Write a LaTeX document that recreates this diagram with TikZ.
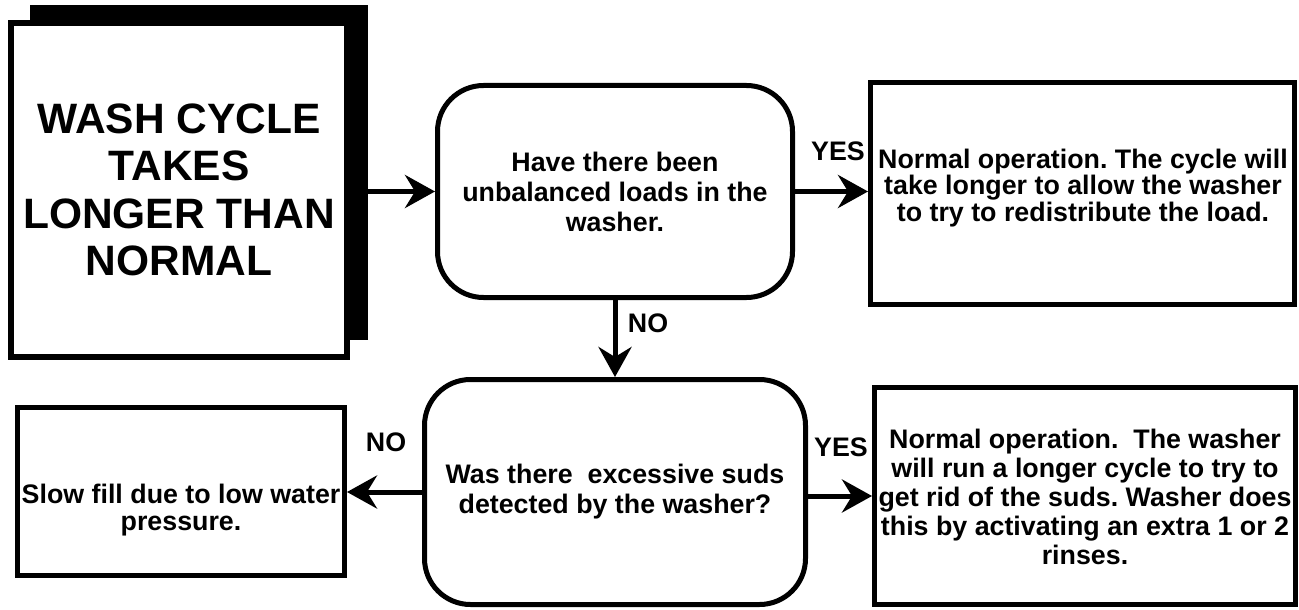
\documentclass[tikz,border=0pt]{standalone}
\usepackage{fontspec}
\setmainfont{Liberation Sans}
\usetikzlibrary{arrows.meta}
\frenchspacing
\begin{document}
\begin{tikzpicture}[x=1pt,y=-1pt,
  box/.style={draw=black,line width=5pt,fill=white,inner sep=0pt},
  dec/.style={box,rounded corners=46pt},
  txt/.style={align=center,font=\fontsize{26.8}{29}\selectfont\bfseries,inner sep=0pt},
  lbl/.style={font=\fontsize{26.8}{28}\selectfont\bfseries,inner sep=0pt},
  arr/.style={line width=5pt,-{Stealth[length=30pt,width=33pt,inset=10pt]}}]
\useasboundingbox (0,0) rectangle (1299,610);
% title box with shadow
\node[fill=black,minimum width=338pt,minimum height=335pt,inner sep=0pt] (shadow) at (199,172.5) {};
\node[box,line width=6pt,minimum width=336pt,minimum height=334pt,align=center,
  font=\fontsize{42.5}{47.5}\selectfont\bfseries] (start) at (179,190)
  {WASH CYCLE\\TAKES\\LONGER THAN\\NORMAL};
% decisions
\node[dec,minimum width=355pt,minimum height=212pt,txt,font=\fontsize{26.8}{30}\selectfont\bfseries] (d1) at (615,191.5)
  {Have there been\\unbalanced loads in the\\washer.};
\node[dec,minimum width=381pt,minimum height=225pt,txt,font=\fontsize{26.8}{30}\selectfont\bfseries] (d2) at (615,492)
  {Was there\ \ excessive suds\\detected by the washer?};
% result boxes
\node[box,minimum width=424pt,minimum height=222pt] (r1) at (1082.5,193.5) {};
\node[txt,font=\fontsize{26.8}{26.5}\selectfont\bfseries] (t1) at (1083,188)
  {Normal operation. The cycle will\\take longer to allow the washer\\to try to redistribute the load.};
\node[box,minimum width=421pt,minimum height=217pt] (r2) at (1085,496) {};
\node[txt] (t2) at (1085,497)
  {Normal operation.\ \ The washer\\will run a longer cycle to try to\\get rid of the suds. Washer does\\this by activating an extra 1 or 2\\rinses.};
\node[box,minimum width=327pt,minimum height=168pt] (l2) at (181,491.5) {};
\node[txt,font=\fontsize{26.8}{27}\selectfont\bfseries] (t3) at (181,510)
  {Slow fill due to low water\\pressure.};
% connectors
\draw[arr] (shadow.east |- d1.west) -- (d1.west);
\draw[arr] (d1.east) -- (d1.east -| r1.west);
\draw[arr] (d1.south) -- (d2.north);
\draw[arr] (d2.east |- r2.west) -- (r2.west);
\draw[arr] (d2.west) -- (d2.west -| l2.east);
% labels
\node[lbl] (yes1) at (838,151) {YES};
\node[lbl] (no1) at (648,323) {NO};
\node[lbl] (yes2) at (841,447) {YES};
\node[lbl] (no2) at (386,442) {NO};
\end{tikzpicture}
\end{document}
